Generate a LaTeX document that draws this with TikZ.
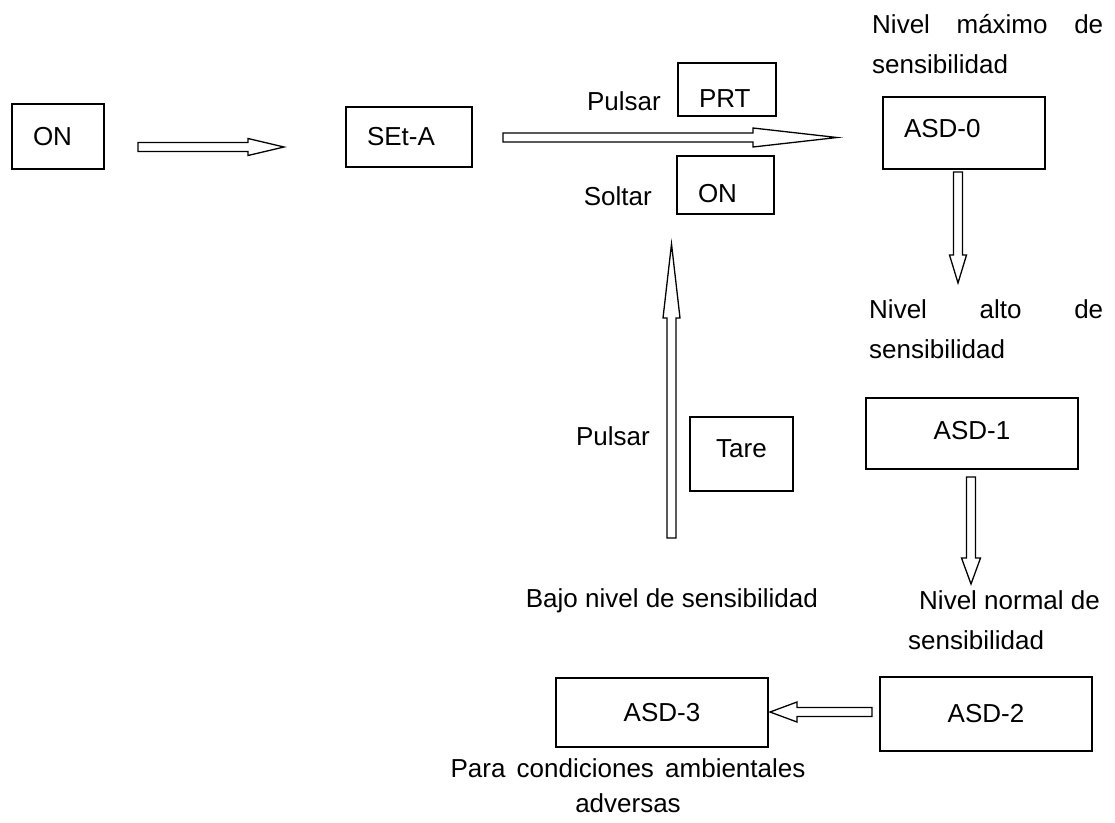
\documentclass[tikz,border=0pt]{standalone}
\usepackage{fontspec}
\setmainfont{Liberation Sans}
\usetikzlibrary{calc}

% hollow block arrow: from, to, half shaft, half head, head length (pt)
\newcommand{\blockarrow}[5]{%
  \draw [hollow] let \p1=($(#2)-(#1)$), \n1={veclen(\x1,\y1)}, \n2={atan2(\y1,\x1)} in
    [shift={(#1)}, rotate=\n2]
    (0pt,-#3pt) -- (\n1-#5pt,-#3pt) -- (\n1-#5pt,-#4pt) -- (\n1,0pt)
    -- (\n1-#5pt,#4pt) -- (\n1-#5pt,#3pt) -- (0pt,#3pt) -- cycle;}

\begin{document}
\begin{tikzpicture}
  [
    x=1pt, y=-1pt,
    every node/.style={font=\fontsize{26pt}{40pt}\selectfont, inner sep=0pt},
    cell/.style={
      draw=black,
      line width=1.8pt,
      align=center
    },
    lcell/.style={cell, align=left, inner xsep=21pt},
    hollow/.style={draw=black, line width=1.3pt, line join=miter}
  ]
  \useasboundingbox (0,0) rectangle (1115,822);

  \node (on)   at (58,136.5)  [lcell, text width=50pt, minimum height=65pt] {ON};
  \node (seta) at (409,137)   [lcell, text width=84pt, minimum height=60pt] {SEt-A};
  \node (prt)  at (727,89.5)  [lcell, text width=56pt, minimum height=53pt,
    text height=35pt, text depth=0pt] {PRT};
  \node (onb)  at (725.5,185) [lcell, text width=55pt, minimum height=58pt,
    text height=35pt, text depth=0pt] {ON};
  \node (asd0) at (964,133)   [lcell, text width=120pt, minimum height=72pt,
    text height=19pt, text depth=10pt] {ASD-0};
  \node (tare) at (741.5,454) [cell, minimum width=103pt, minimum height=74pt,
    text height=19pt, text depth=12pt] {Tare};
  \node (asd1) at (972,433.5) [cell, minimum width=212pt, minimum height=71pt,
    text height=19pt, text depth=8pt] {ASD-1};
  \node (asd2) at (986,714)   [cell, minimum width=212pt, minimum height=74pt] {ASD-2};
  \node (asd3) at (662,712.5) [cell, minimum width=212pt, minimum height=69pt] {ASD-3};

  \node (pulsar)  at (661,110) [anchor=base east] {Pulsar};
  \node (soltar)  at (652,205) [anchor=base east] {Soltar};
  \node (pulsarb) at (650,445) [anchor=base east] {Pulsar};

  \node (lvl0) at (872,33)  [anchor=base west, text width=231pt, align=left]
    {Nivel\hfill máximo\hfill de\\sensibilidad};
  \node (lvl1) at (869,318) [anchor=base west, text width=234pt, align=left]
    {Nivel\hfill alto\hfill de\\sensibilidad};
  \node (lvl2) at (908,649) [anchor=base west, align=left]
    {\hspace*{11pt}Nivel normal de\\sensibilidad};
  \node (lvl3) at (818,607) [anchor=base east] {Bajo nivel de sensibilidad};
  \node (lvl4) at (628,812) [anchor=base, align=center,
    font=\fontsize{26pt}{35pt}\selectfont]
    {Para\hspace{4pt} condiciones\hspace{4pt} ambientales\\adversas};

  \coordinate (a1s) at (138,147);   \coordinate (a1e) at (284,147);
  \coordinate (a2s) at (503,137.5); \coordinate (a2e) at (837,137.5);
  \coordinate (a3s) at (958,172);   \coordinate (a3e) at (958,283);
  \coordinate (a4s) at (671.5,538); \coordinate (a4e) at (671.5,244);
  \coordinate (a5s) at (971,477);   \coordinate (a5e) at (971,584);
  \coordinate (a6s) at (872,712);   \coordinate (a6e) at (770,712);

  \blockarrow{a1s}{a1e}{4.5}{8.5}{36}
  \blockarrow{a2s}{a2e}{4.5}{9.5}{84}
  \blockarrow{a3s}{a3e}{4.5}{8.5}{28}
  \blockarrow{a4s}{a4e}{4.5}{8.5}{74}
  \blockarrow{a5s}{a5e}{4.5}{9.5}{26}
  \blockarrow{a6s}{a6e}{4.5}{10}{27}
\end{tikzpicture}
\end{document}
